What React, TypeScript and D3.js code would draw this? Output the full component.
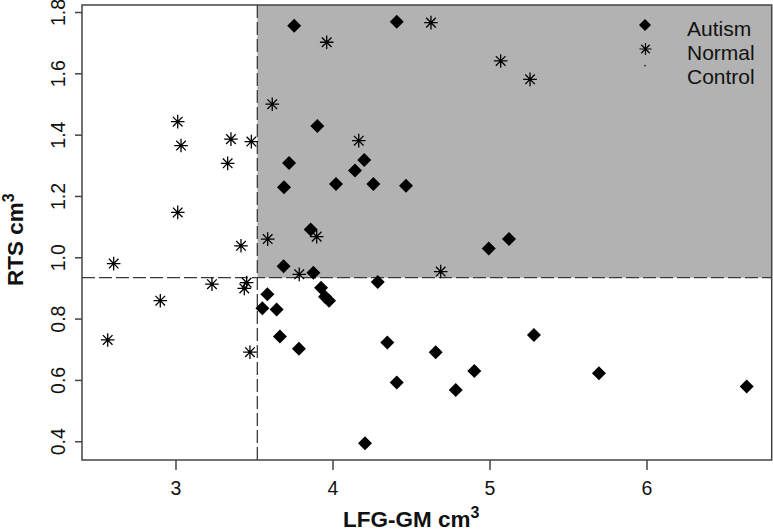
import React from "react";
import * as d3 from "d3";

// ---- data ----
const autismX = [3.753, 4.406, 3.9, 3.72, 4.199, 4.14, 3.688, 4.019, 4.257, 4.465, 3.858, 4.992, 5.121, 3.685, 3.875, 4.285, 3.924, 3.949, 3.975, 3.582, 3.55, 3.641, 3.662, 3.783, 4.346, 4.654, 4.9, 4.406, 4.782, 4.204, 5.28, 5.694, 6.635];
const autismY = [1.757, 1.77, 1.43, 1.309, 1.319, 1.285, 1.23, 1.241, 1.241, 1.235, 1.092, 1.03, 1.061, 0.972, 0.951, 0.921, 0.902, 0.873, 0.86, 0.881, 0.835, 0.831, 0.743, 0.703, 0.724, 0.692, 0.631, 0.593, 0.569, 0.395, 0.748, 0.623, 0.58];
const normalX = [4.624, 3.96, 5.068, 5.255, 3.613, 4.164, 3.48, 3.011, 3.032, 3.35, 3.329, 3.011, 3.414, 2.603, 3.584, 3.896, 3.785, 4.686, 3.229, 3.45, 3.435, 2.9, 2.565, 3.471];
const normalY = [1.767, 1.703, 1.642, 1.582, 1.501, 1.382, 1.379, 1.444, 1.366, 1.387, 1.308, 1.148, 1.039, 0.981, 1.061, 1.069, 0.946, 0.955, 0.914, 0.919, 0.9, 0.86, 0.732, 0.692];
const controlMeanX = 3.518;
const controlMeanY = 0.935;
const xTicks = [3, 4, 5, 6];
const yTicks = [0.4, 0.6, 0.8, 1.0, 1.2, 1.4, 1.6, 1.8];
const legendLabels = ["Autism", "Normal", "Control"];
const xDomain = [2.4013, 6.7943];
const yDomain = [0.3404, 1.8245];

const W = 773;
const H = 531;
const L = 82, T = 5, R = 771.7, B = 460;
const FONT = "'Liberation Sans', Arial, Helvetica, sans-serif";

function asteriskPath(cx: number, cy: number, r: number) {
  const d = r / Math.SQRT2;
  return `M${cx - r},${cy}L${cx + r},${cy}M${cx},${cy - r}L${cx},${cy + r}` +
    `M${cx - d},${cy - d}L${cx + d},${cy + d}M${cx - d},${cy + d}L${cx + d},${cy - d}`;
}
function diamondPath(cx: number, cy: number, r: number) {
  return `M${cx},${cy - r}L${cx + r},${cy}L${cx},${cy + r}L${cx - r},${cy}Z`;
}

export default function App() {
  const x = d3.scaleLinear().domain(xDomain).range([L, R]);
  const y = d3.scaleLinear().domain(yDomain).range([B, T]);
  const fmt = d3.format(".1f");
  const vx = x(controlMeanX);
  const hy = y(controlMeanY);
  const legendY = [25, 49, 65.7];
  const legendTextY = [35.5, 59.5, 83.5];

  return (
    <svg width={W} height={H} style={{ position: "fixed", left: 0, top: 0, background: "#fff" }} fontFamily={FONT}>
      <rect x={0} y={0} width={W} height={H} fill="#fff" />
      <rect x={vx} y={T} width={R - vx} height={hy - T} fill="#b2b2b2" />
      <line x1={vx} x2={vx} y1={T} y2={B} stroke="#3a3a3a" strokeWidth={1.3} strokeDasharray="13,4" />
      <line x1={L} x2={R} y1={hy} y2={hy} stroke="#3a3a3a" strokeWidth={1.3} strokeDasharray="13,4" />

      {autismX.map((v, i) => (
        <path key={"a" + i} d={diamondPath(x(v), y(autismY[i]), 7)} fill="#000" />
      ))}
      {normalX.map((v, i) => (
        <path key={"n" + i} d={asteriskPath(x(v), y(normalY[i]), 6.8)} stroke="#000" strokeWidth={1.3} fill="none" />
      ))}

      <rect x={L} y={T} width={R - L} height={B - T} fill="none" stroke="#444" strokeWidth={1.5} />

      {xTicks.map((t) => (
        <g key={"xt" + t}>
          <line x1={x(t)} x2={x(t)} y1={B} y2={B + 10} stroke="#444" strokeWidth={1.5} />
          <text x={x(t)} y={495} textAnchor="middle" fontSize={19.5} fill="#111">{t}</text>
        </g>
      ))}
      {yTicks.map((t) => (
        <g key={"yt" + t}>
          <line x1={L - 7} x2={L} y1={y(t)} y2={y(t)} stroke="#444" strokeWidth={1.5} />
          <text transform={`translate(65,${y(t)}) rotate(-90)`} textAnchor="middle" fontSize={19.5} fill="#111">{fmt(t)}</text>
        </g>
      ))}

      <text x={343} y={527} fontSize={22.5} fontWeight="bold" fill="#111">
        LFG-GM cm<tspan fontSize={16} dy={-9}>3</tspan>
      </text>
      <text transform={`translate(22.5,286) rotate(-90)`} fontSize={22.5} fontWeight="bold" fill="#111">
        RTS cm<tspan fontSize={16} dy={-9}>3</tspan>
      </text>

      <path d={diamondPath(645, legendY[0], 6)} fill="#000" />
      <path d={asteriskPath(645.5, legendY[1], 6)} stroke="#000" strokeWidth={1.2} fill="none" />
      <circle cx={645} cy={legendY[2]} r={0.9} fill="#333" />
      {legendLabels.map((lab, i) => (
        <text key={lab} x={687} y={legendTextY[i]} fontSize={21} fill="#111">{lab}</text>
      ))}
    </svg>
  );
}
